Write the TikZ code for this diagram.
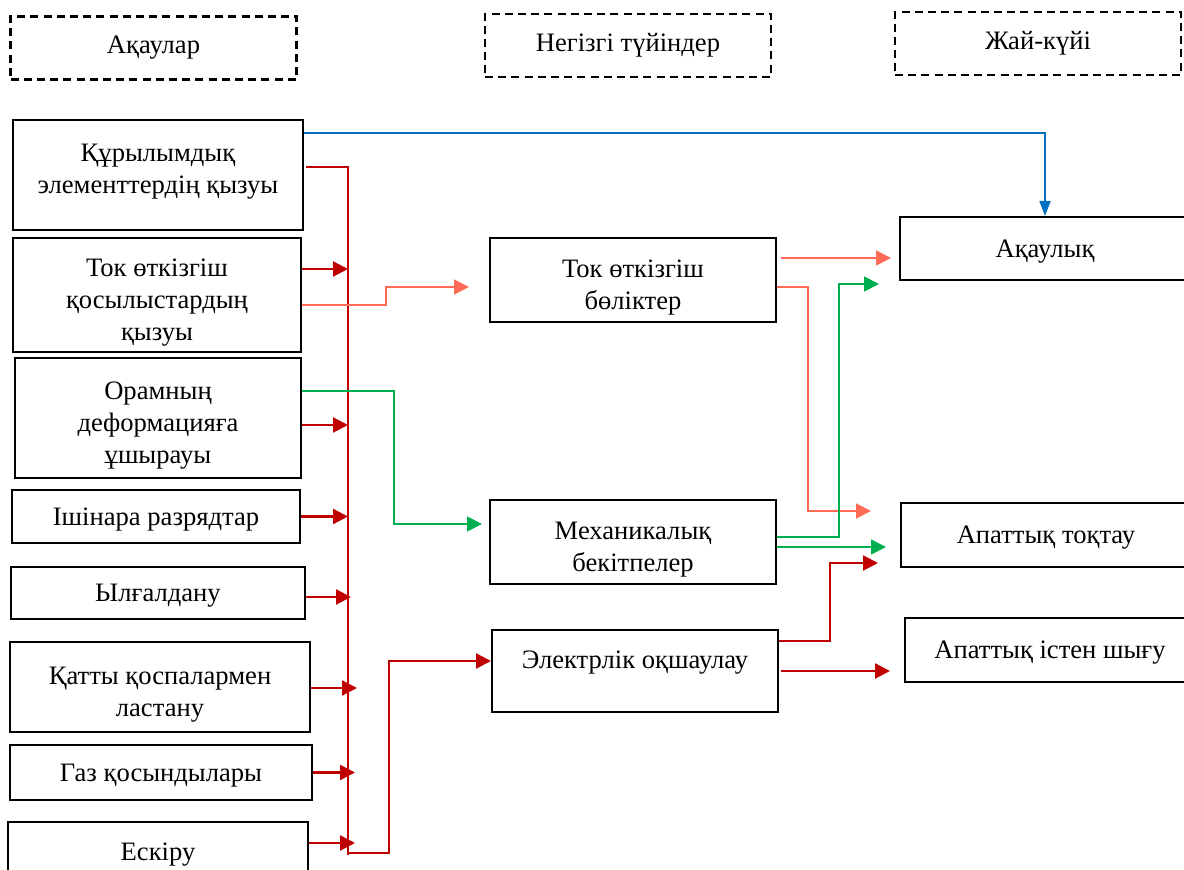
\documentclass[tikz,border=0pt]{standalone}
\usepackage{fontspec}
\setmainfont{Liberation Serif}
\usetikzlibrary{arrows.meta,calc}
\definecolor{faultred}{HTML}{C00000}
\definecolor{heatsalmon}{HTML}{FF6B55}
\definecolor{mechgreen}{HTML}{00B050}
\definecolor{linkblue}{HTML}{0070C0}
\newcommand\lift{\rule{0pt}{16pt}}
\tikzset{
  lowtext/.style={font=\fontsize{13.3}{16}\selectfont, execute at begin node={\rule{0pt}{11.5pt}}},
  head/.style={font=\fontsize{13.3}{16}\selectfont, draw=black, line width=1.1pt, dash pattern=on 4pt off 2.6pt, inner sep=0pt, minimum width=143pt, minimum height=31.5pt, align=center},
  cause/.style={lowtext, draw=black, line width=1pt, inner sep=0pt, align=center},
  word/.style={lowtext, inner sep=0pt, align=center},
  redline/.style={line width=0.9pt, draw=faultred},
  redflow/.style={-{Triangle[length=7.5pt,width=7.5pt]}, line width=1.1pt, draw=faultred},
  salflow/.style={-{Triangle[length=7.5pt,width=7.5pt]}, line width=0.9pt, draw=heatsalmon},
  greenflow/.style={-{Triangle[length=7.5pt,width=7.5pt]}, line width=0.9pt, draw=mechgreen},
  blueflow/.style={-{Triangle[length=7.5pt,width=5.5pt]}, line width=0.9pt, draw=linkblue}
}

\begin{document}
\begin{tikzpicture}[x=0.5pt, y=-0.5pt]
  \useasboundingbox (0,0) rectangle (1184,870);
  \clip (0,0) rectangle (1184,870);

  \node[head] (h1) at (153.5,48) {Ақаулар};
  \node[head] (h2) at (628,45.5) {Негізгі түйіндер};
  \node[head] (h3) at (1038,43.5) {Жай-күйі};

  \node[cause, minimum width=145pt, minimum height=55pt] (f1) at (158,175) {};
  \node[word] (f1t) at (158,171.5) {Құрылымдық\\элементтердің қызуы};
  \node[cause, minimum width=144pt, minimum height=57pt] (f2) at (157,295) {\lift Ток өткізгіш\\қосылыстардың\\қызуы};
  \node[cause, minimum width=143pt, minimum height=60pt] (f3) at (158,418) {\lift Орамның\\деформацияға\\ұшырауы};
  \node[cause, minimum width=144pt, minimum height=26.5pt] (f4) at (156,516.5) {Ішінара разрядтар};
  \node[cause, minimum width=147pt, minimum height=26pt] (f5) at (158,593) {Ылғалдану};
  \node[cause, minimum width=150pt, minimum height=45pt] (f6) at (160,687) {\lift Қатты қоспалармен\\ластану};
  \node[cause, minimum width=151pt, minimum height=27.5pt] (f7) at (161,772.5) {Газ қосындылары};
  \node[cause, minimum width=150pt, minimum height=30pt] (f8) at (158,852) {Ескіру};

  \node[cause, minimum width=143pt, minimum height=42pt] (m1) at (633,280) {\lift Ток өткізгіш\\бөліктер};
  \node[cause, minimum width=143pt, minimum height=42pt] (m2) at (633,542) {\lift Механикалық\\бекітпелер};
  \node[cause, minimum width=143pt, minimum height=41pt] (m3) at (635,671) {};
  \node[word] (m3t) at (635,660) {Электрлік оқшаулау};

  \node[cause, minimum width=145pt, minimum height=31.5pt] (s1) at (1045,248.5) {Ақаулық};
  \node[cause, minimum width=145pt, minimum height=32pt] (s2) at (1046,535) {Апаттық тоқтау};
  \node[cause, minimum width=145pt, minimum height=32pt] (s3) at (1050,650) {Апаттық істен шығу};

  \coordinate (bb) at (348,855);
  \coordinate (bj) at (389,853);

  \draw[blueflow] ([yshift=21pt]f1.east) -| (s1.north);
  \draw[redline] ([xshift=1pt,yshift=4pt]f1.east) -| (bb);
  \draw[redflow] (bj -| bb) -- (bj) |- ([yshift=5pt]m3.west);
  \foreach \n/\dy/\ex in {f2/13pt/0, f3/-3.5pt/0, f4/0pt/0, f5/-2pt/3, f6/-0.5pt/9, f7/0pt/7, f8/4.5pt/7}
    \draw[redflow] ([yshift=\dy]\n.east) coordinate (src) -- ($(src -| bb)+(\ex,0)$);

  \draw[salflow] ([yshift=-5pt]f2.east) -- ++(84,0) |- ([xshift=-10pt,yshift=-3.5pt]m1.west);
  \draw[greenflow] ([yshift=13.5pt]f3.east) -- ++(92,0) |- ([xshift=-3.5pt,yshift=9pt]m2.west);

  \draw[salflow, shorten >=4pt] ([xshift=2pt,yshift=11pt]m1.east) coordinate (o1) -- (o1 -| s1.west);
  \draw[salflow, shorten >=14.5pt] ([yshift=-3.5pt]m1.east) -- ++(31,0) |- ([yshift=12pt]s2.west);
  \draw[greenflow, shorten >=10pt] ([yshift=2.5pt]m2.east) -- ++(62,0) |- ([yshift=-17.75pt]s1.west);
  \draw[greenflow, shorten >=7pt] ([yshift=-2.5pt]m2.east) coordinate (o2) -- (o2 -| s2.west);
  \draw[redflow, shorten >=11pt] ([yshift=15pt]m3.east) -- ++(51,0) |- ([yshift=-14pt]s2.west);
  \draw[redflow, shorten >=7pt] ([xshift=1pt]m3.east) coordinate (o3) -- (o3 -| s3.west);
\end{tikzpicture}
\end{document}
